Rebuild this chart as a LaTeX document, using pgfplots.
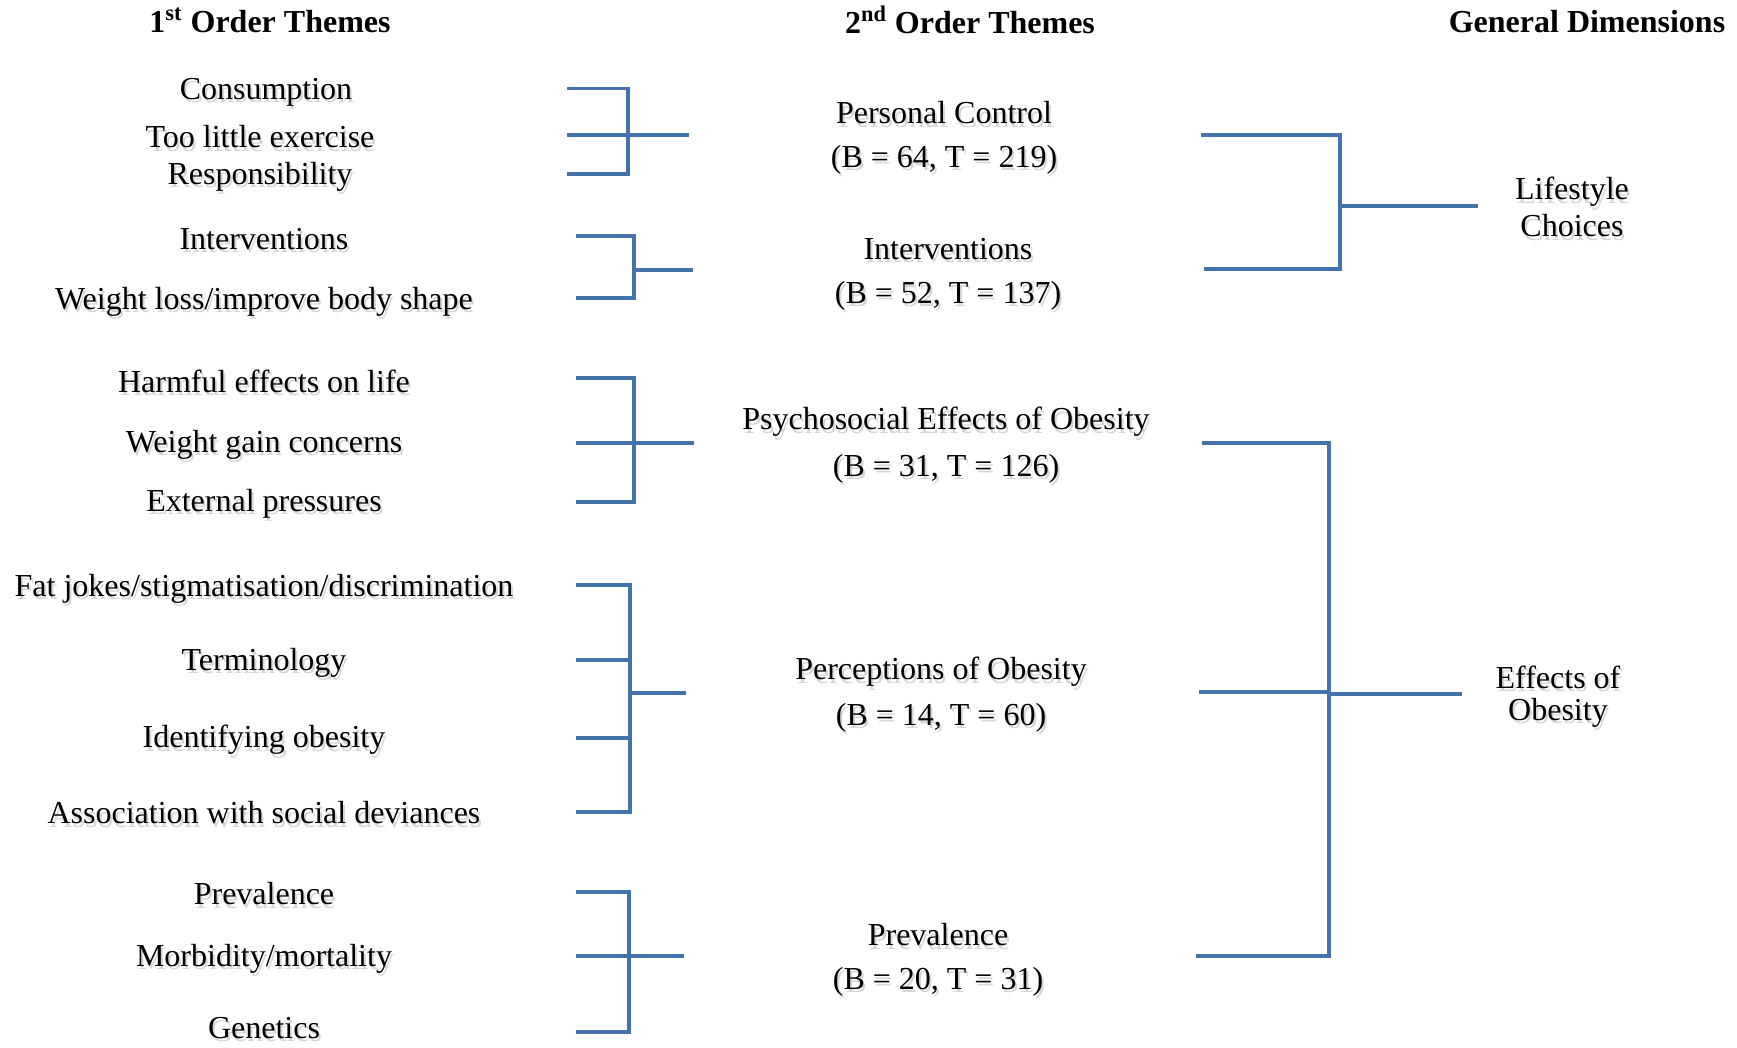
\documentclass[border=0pt]{standalone}
\usepackage{pgfplots}
\pgfplotsset{compat=1.18}
\usepackage{fontspec}
\setmainfont{Liberation Serif}
\definecolor{brk}{RGB}{68,114,170}
\newcommand{\fs}{\fontsize{16}{19.5}\selectfont}
\newcommand{\lbl}[3]{%
  \node[font=\fs,inner sep=0pt,text=black!16,xshift=1pt,yshift=-1.6pt] at (axis cs:#1,#2) {#3};
  \node[font=\fs,inner sep=0pt] at (axis cs:#1,#2) {#3};}
\begin{document}
\begin{tikzpicture}
\begin{axis}[
  hide axis, scale only axis,
  width=868.5pt, height=524pt,
  xmin=0, xmax=1737, ymin=0, ymax=1048, y dir=reverse,
  clip=false,
  br/.style={brk, solid, no marks, line width=1.7pt, line join=miter},
]
\addplot[draw=none, no marks] coordinates {(0,0) (1737,1048)};
% group 1
\addplot[br] coordinates {(567,88.6) (628,88.6) (628,174) (567,174)};
\addplot[br] coordinates {(567,135) (689,135)};
% group 2
\addplot[br] coordinates {(576,236) (634,236) (634,298) (576,298)};
\addplot[br] coordinates {(634,270) (693,270)};
% group 3
\addplot[br] coordinates {(576,378) (634,378) (634,502) (576,502)};
\addplot[br] coordinates {(576,443) (694,443)};
% group 4
\addplot[br] coordinates {(576,585) (630,585) (630,812) (576,812)};
\addplot[br] coordinates {(576,660) (630,660)};
\addplot[br] coordinates {(576,738) (630,738)};
\addplot[br] coordinates {(630,693) (686,693)};
% group 5
\addplot[br] coordinates {(576,892) (629,892) (629,1032) (576,1032)};
\addplot[br] coordinates {(576,956) (684,956)};
% right 1
\addplot[br] coordinates {(1201,135) (1340,135) (1340,269) (1204,269)};
\addplot[br] coordinates {(1340,206) (1478,206)};
% right 2
\addplot[br] coordinates {(1202,443) (1329,443) (1329,956) (1196,956)};
\addplot[br] coordinates {(1199,692) (1329,692)};
\addplot[br] coordinates {(1329,694) (1462,694)};
% headers
\node[font=\fs\bfseries,inner sep=0pt] at (axis cs:270,20.5) {1\textsuperscript{st} Order Themes};
\node[font=\fs\bfseries,inner sep=0pt] at (axis cs:970,20) {2\textsuperscript{nd} Order Themes};
\node[font=\fs\bfseries,inner sep=0pt] at (axis cs:1587,22) {General Dimensions};
% first order
\lbl{266}{92}{Consumption}
\lbl{260}{137}{Too little exercise}
\lbl{260}{177}{Responsibility}
\lbl{264}{239}{Interventions}
\lbl{264}{302}{Weight loss/improve body shape}
\lbl{264}{381}{Harmful effects on life}
\lbl{264}{445}{Weight gain concerns}
\lbl{264}{504}{External pressures}
\lbl{264}{589}{Fat jokes/stigmatisation/discrimination}
\lbl{264}{663}{Terminology}
\lbl{264}{740}{Identifying obesity}
\lbl{264}{813}{Association with social deviances}
\lbl{264}{894}{Prevalence}
\lbl{264}{959}{Morbidity/mortality}
\lbl{264}{1028}{Genetics}
% second order
\lbl{944}{113}{Personal Control}
\lbl{944}{160}{(B = 64, T = 219)}
\lbl{948}{249}{Interventions}
\lbl{948}{296}{(B = 52, T = 137)}
\lbl{946}{422}{Psychosocial Effects of Obesity}
\lbl{946}{469}{(B = 31, T = 126)}
\lbl{941}{672}{Perceptions of Obesity}
\lbl{941}{718}{(B = 14, T = 60)}
\lbl{938}{935}{Prevalence}
\lbl{938}{982}{(B = 20, T = 31)}
% general
\lbl{1572}{192}{Lifestyle}
\lbl{1572}{226}{Choices}
\lbl{1558}{677}{Effects of}
\lbl{1558}{713}{Obesity}
\end{axis}
\end{tikzpicture}
\end{document}
